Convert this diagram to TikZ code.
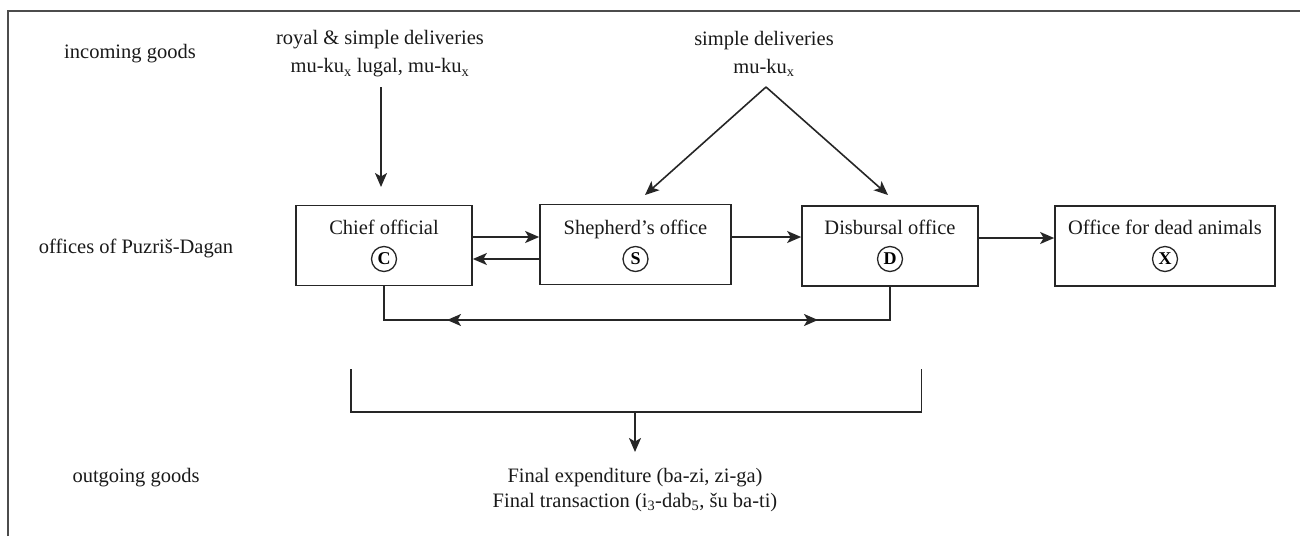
\documentclass[tikz,border=0pt]{standalone}
\usepackage{fontspec}
\setmainfont{Liberation Serif}
\usetikzlibrary{arrows.meta,calc}
\begin{document}
\begin{tikzpicture}[x=1pt,y=-1pt,
  line/.style={draw=black!85, line width=1.6pt},
  arr/.style={line, -{Stealth[length=14pt,width=12pt,inset=3.5pt]}},
  office/.style={draw=black!85, line width=1.7pt, minimum height=80pt, inner sep=0pt},
  lbl/.style={font=\fontsize{20.5}{28}\selectfont, align=center, inner sep=0pt, text=black!90},
  title/.style={lbl, text height=14pt, text depth=4.5pt},
  lbltwo/.style={font=\fontsize{20.5}{24.5}\selectfont, align=center, inner sep=0pt, text=black!90},
  circ/.style={circle, draw=black!85, line width=1.3pt, minimum size=25pt, inner sep=0pt, font=\fontsize{18}{18}\selectfont\bfseries}
]
\useasboundingbox (0,0) rectangle (1300,536);
% frame
\coordinate (fb) at (8,536);
\coordinate (ftl) at (8,11);
\coordinate (ftr) at (1300,11);
\draw[line, line width=1.3pt, draw=black!70] (fb) -- (ftl) -- (ftr);

% row labels
\node[lbl] (lin) at (130,54) {incoming goods};
\node[lbl] (loff) at (136,248) {offices of Puzriš-Dagan};
\node[lbl] (lout) at (136,478) {outgoing goods};

% incoming texts
\node[lbl] (royal) at (380,54) {royal \& simple deliveries\\mu-ku\textsubscript{x} lugal, mu-ku\textsubscript{x}};
\node[lbl] (simple) at (764,54) {simple deliveries\\mu-ku\textsubscript{x}};

% offices
\node[office, minimum width=176pt] (C) at (384,245.5) {};
\node[title] (Ct) at (384,230) {Chief official};
\node[circ] (Cc) at (384,259) {C};

\node[office, minimum width=191pt] (S) at (635.5,244.5) {};
\node[title] (St) at (635.5,230) {Shepherd’s office};
\node[circ] (Sc) at (635.5,259) {S};

\node[office, minimum width=176pt] (D) at (890,246) {};
\node[title] (Dt) at (890,230) {Disbursal office};
\node[circ] (Dc) at (890,259) {D};

\node[office, minimum width=220pt] (X) at (1165,246) {};
\node[title] (Xt) at (1165,230) {Office for dead animals};
\node[circ] (Xc) at (1165,259) {X};

% incoming arrows
\coordinate (rs) at (381,87);
\coordinate (re) at (381,187);
\draw[arr] (rs) -- (re);
\coordinate (apex) at (766,87);
\coordinate (sE) at (645,195);
\coordinate (dE) at (888,195);
\draw[arr] (apex) -- (sE);
\draw[arr] (apex) -- (dE);

% horizontal arrows between offices
\coordinate (ya) at (0,237);
\coordinate (yb) at (0,259);
\coordinate (yc) at (0,238);
\draw[arr] (C.east |- ya) -- (S.west |- ya);
\draw[arr] (S.west |- yb) -- (C.east |- yb);
\draw[arr] (S.east |- ya) -- (D.west |- ya);
\draw[arr] (D.east |- yc) -- (X.west |- yc);

% C - D exchange line
\coordinate (yl) at (0,320);
\draw[line] (C.south) -- (C.south |- yl) -- (D.south |- yl) -- (D.south);
\coordinate (al0) at (470,320);
\coordinate (al1) at (447,320);
\coordinate (ar0) at (795,320);
\coordinate (ar1) at (818,320);
\draw[arr] (al0) -- (al1);
\draw[arr] (ar0) -- (ar1);

% outgoing bracket
\coordinate (b1) at (351,369);
\coordinate (b2) at (351,412);
\coordinate (b3) at (921.5,412);
\coordinate (b4) at (921.5,369);
\draw[line] (b1) -- (b2) -- (b3) -- (b4);
\coordinate (bo) at (635,412);
\coordinate (be) at (635,452);
\draw[arr] (bo) -- (be);

\node[lbltwo] (final) at (635,490) {Final expenditure (ba-zi, zi-ga)\\Final transaction (i\textsubscript{3}-dab\textsubscript{5}, šu ba-ti)};
\end{tikzpicture}
\end{document}
